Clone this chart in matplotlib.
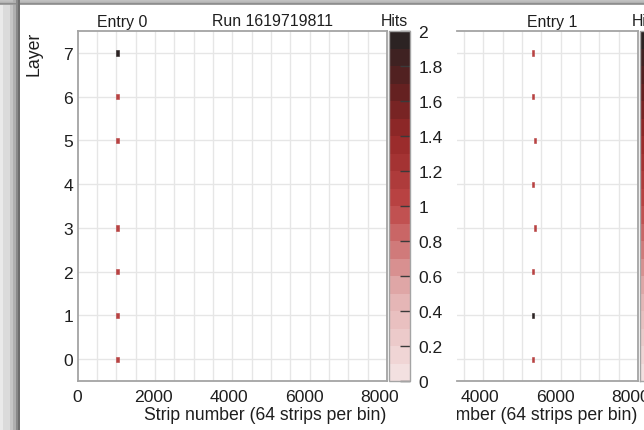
import numpy as np
import matplotlib
matplotlib.use("Agg")
import matplotlib.pyplot as plt
from matplotlib.colors import LinearSegmentedColormap, ListedColormap, BoundaryNorm
from matplotlib.cm import ScalarMappable
from matplotlib.ticker import FixedLocator, MultipleLocator, FormatStrFormatter
from matplotlib.transforms import Bbox, TransformedBbox

plt.rcParams['font.family'] = ['Liberation Sans', 'DejaVu Sans']

# ---- event data -------------------------------------------------------
run_number = "1619719811"
strips_per_bin = 64
n_strips = 8192
layer_ticks = [0, 1, 2, 3, 4, 5, 6, 7]
strip_ticks = [0, 2000, 4000, 6000, 8000]

entry0_layers = [0, 1, 2, 3, 5, 6, 7]
entry0_strips = [1056, 1056, 1056, 1056, 1056, 1056, 1056]
entry0_hits = [1, 1, 1, 1, 1, 1, 2]

entry1_layers = [0, 1, 2, 3, 4, 5, 6, 7]
entry1_strips = [5408, 5408, 5408, 5472, 5408, 5472, 5408, 5408]
entry1_hits = [1, 2, 1, 1, 1, 1, 1, 1]

hit_levels = [0, 0.1, 0.2, 0.3, 0.4, 0.5, 0.6, 0.7, 0.8, 0.9, 1.0,
              1.1, 1.2, 1.3, 1.4, 1.5, 1.6, 1.7, 1.8, 1.9, 2.0]
hit_ticks = [0, 0.2, 0.4, 0.6, 0.8, 1.0, 1.2, 1.4, 1.6, 1.8, 2.0]

# ---- colour scale -------------------------------------------------------
base = LinearSegmentedColormap.from_list(
    "hits", [(0.0, "#f5e5e5"), (0.25, "#e3b0b0"), (0.5, "#bd4646"),
             (0.7, "#962828"), (0.85, "#5c2020"), (1.0, "#232323")])
n_lev = len(hit_levels) - 1
cmap = ListedColormap(base((np.arange(n_lev) + 0.5) / n_lev))
norm = BoundaryNorm(hit_levels, n_lev, clip=True)

W, H = 644, 431
fig = plt.figure(figsize=(W / 100, H / 100), dpi=100)
fig.patch.set_facecolor("white")


def fx(px):
    return px / W


def fy(py):
    return 1 - py / H


def add_box(x0, y0, x1, y1):
    return fig.add_axes([fx(x0), fy(y1), fx(x1) - fx(x0), (y1 - y0) / H])


SPINE = "#a4a4a4"
GRID = "#e6e6e6"
TXT = "#1e1e1e"
TICK_FS = 12.6
LABEL_FS = 12.7
TITLE_FS = 11.4


def draw_panel(ax, layers, strips, hits, xlim, show_left=True):
    lay = np.asarray(layers, dtype=float)
    cols = cmap(norm(np.asarray(hits, dtype=float)))
    ax.bar(strips, 0.12, width=strips_per_bin, bottom=lay - 0.06,
           color=cols, edgecolor=cols, linewidth=0.4, zorder=3)
    ax.set_xlim(*xlim)
    ax.set_ylim(-0.5, 7.5)
    ax.set_axisbelow(True)
    ax.xaxis.set_major_locator(FixedLocator(strip_ticks))
    ax.xaxis.set_minor_locator(MultipleLocator(512))
    ax.yaxis.set_major_locator(FixedLocator(layer_ticks))
    ax.grid(which="minor", axis="x", color=GRID, lw=1.0)
    ax.grid(which="major", axis="y", color=GRID, lw=1.0)
    ax.tick_params(which="both", length=0, labelsize=TICK_FS, colors=TXT)
    ax.tick_params(axis="x", pad=6)
    ax.tick_params(axis="y", pad=3)
    for name, sp in ax.spines.items():
        sp.set_color(SPINE)
        sp.set_linewidth(1.3)
    if not show_left:
        ax.spines["left"].set_visible(False)
        ax.tick_params(axis="y", labelleft=False)


def draw_colorbar(cax, labels=True):
    cb = fig.colorbar(ScalarMappable(norm=norm, cmap=cmap), cax=cax,
                      ticks=hit_ticks, spacing="uniform")
    cb.ax.yaxis.set_major_formatter(FormatStrFormatter("%g"))
    cb.ax.tick_params(direction="in", length=7.5, width=1.0, color="#3a3a3a",
                      labelsize=TICK_FS, labelcolor=TXT, pad=6,
                      labelright=labels)
    cb.ax.minorticks_off()
    cb.outline.set_edgecolor(SPINE)
    cb.outline.set_linewidth(1.0)
    return cb


# ---- left panel: entry 0 -------------------------------------------------
ax0 = add_box(77.5, 32, 387, 382)
draw_panel(ax0, entry0_layers, entry0_strips, entry0_hits, (0, n_strips))
cax0 = add_box(389, 32, 410, 382)
draw_colorbar(cax0)

fig.text(fx(122), fy(26.5), "Entry 0", ha="center", va="baseline", fontsize=TITLE_FS, color=TXT)
fig.text(fx(273), fy(26.5), "Run " + run_number, ha="center", va="baseline", fontsize=TITLE_FS, color=TXT)
fig.text(fx(407.5), fy(26.5), "Hits", ha="right", va="baseline", fontsize=TITLE_FS, color=TXT)
fig.text(fx(34.5), fy(32), "Layer", rotation=90, ha="center", va="top", fontsize=LABEL_FS, color=TXT)
fig.text(fx(386), fy(420.5), "Strip number (64 strips per bin)", ha="right",
         va="baseline", fontsize=LABEL_FS, color=TXT)

# ---- right panel: entry 1 (partly scrolled out of view) ----------------
px_per_strip = (387 - 77.5) / n_strips
left_edge = 638 - n_strips * px_per_strip
ax1 = add_box(457, 32, 638, 382)
draw_panel(ax1, entry1_layers, entry1_strips, entry1_hits,
           ((457 - left_edge) / px_per_strip, n_strips), show_left=False)
cax1 = add_box(640, 32, 661, 382)
draw_colorbar(cax1, labels=False)

clip = TransformedBbox(Bbox([[fx(457), 0], [1, 1]]), fig.transFigure)
xl1 = fig.text(fx(637), fy(420.5), "Strip number (64 strips per bin)", ha="right",
               va="baseline", fontsize=LABEL_FS, color=TXT)
xl1.set_clip_box(clip)
xl1.set_clip_on(True)
fig.text(fx(552), fy(26.5), "Entry 1", ha="center", va="baseline", fontsize=TITLE_FS, color=TXT)
fig.text(fx(632), fy(26.5), "Hits", ha="left", va="baseline", fontsize=TITLE_FS, color=TXT)

# ---- window frame shading ---------------------------------------------
frame = np.zeros((H, W, 4))
left_shade = [0.92, 0.92, 0.92, 0.86, 0.86, 0.86, 0.86, 0.86, 0.86, 0.86,
              0.78, 0.78, 0.78, 0.69, 0.69, 0.69, 0.54, 0.54, 0.43, 0.43]
top_shade = [0.76, 0.76, 0.74, 0.70, 0.56, 0.62]
for i, s in enumerate(left_shade):
    frame[:, i, :3] = s
    frame[:, i, 3] = 1
for j, s in enumerate(top_shade):
    row = frame[j]
    row[len(left_shade):, :3] = s
    row[len(left_shade):, 3] = 1
    row[:len(left_shade), :3] = np.minimum(row[:len(left_shade), :3], s)
fig.figimage(frame, 0, 0, origin="upper", zorder=5)

fig.savefig("out.png", dpi=100)
